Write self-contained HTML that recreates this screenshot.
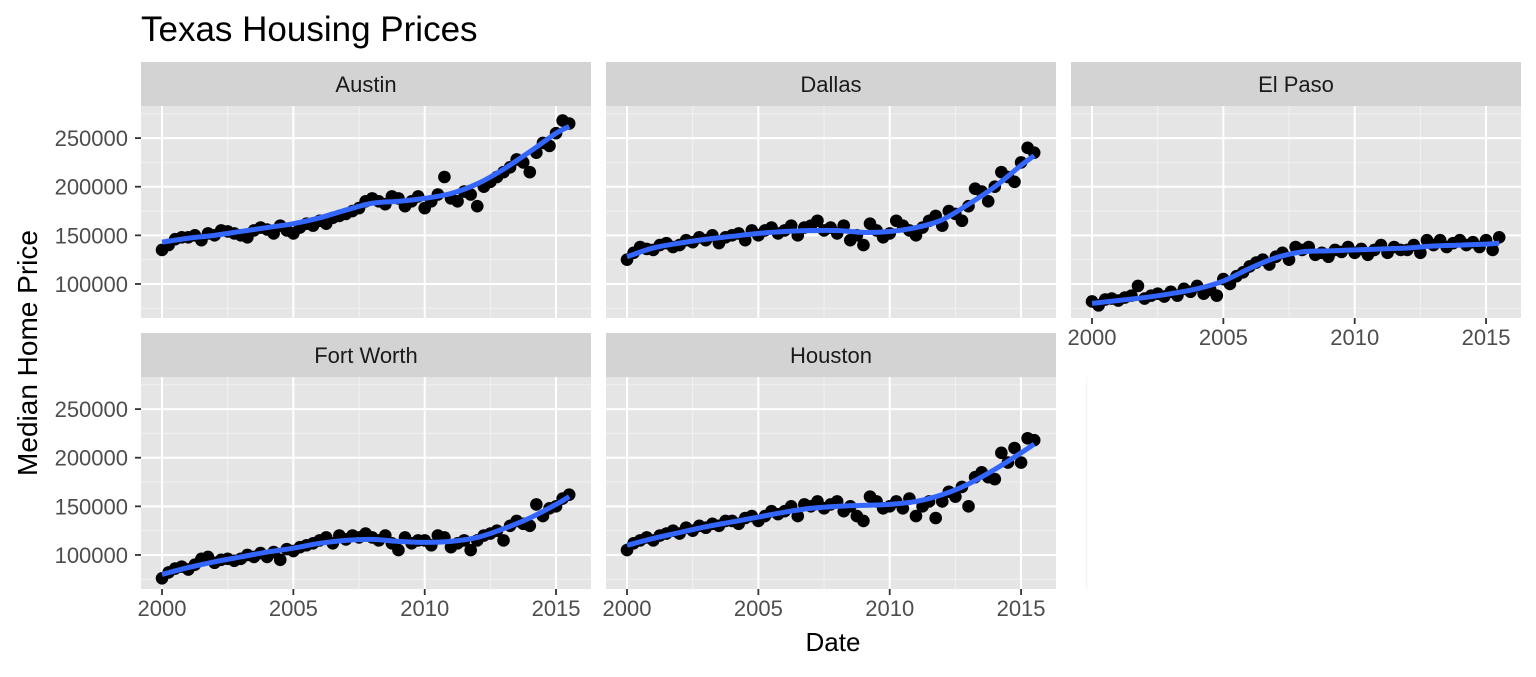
<!DOCTYPE html>
<html><head><meta charset="utf-8"><style>
body{margin:0;background:#fff;}
svg text{font-family:"Liberation Sans",Arial,sans-serif;}
</style></head><body>
<svg id="c" width="1536" height="672" xmlns="http://www.w3.org/2000/svg"></svg>
<script>
const cities = ["Austin","Dallas","El Paso","Fort Worth","Houston"];
const yearStart = 2000;
const austinPts = [135,140,146,148,148,150,145,152,150,155,154,152,150,148,155,158,156,152,160,155,152,158,162,160,165,162,168,170,172,175,178,185,188,185,182,190,188,180,185,190,178,185,192,210,188,185,195,192,180,200,205,210,215,220,228,225,215,235,245,242,255,268,265];
const dallasPts = [125,132,138,136,135,140,142,138,140,145,143,148,145,150,142,148,150,152,145,155,150,155,158,152,155,160,150,158,160,165,155,158,152,160,145,150,140,162,155,148,152,165,160,155,150,158,165,170,160,175,172,165,180,198,195,185,200,215,210,205,225,240,235];
const elpasoPts = [82,78,84,85,83,86,88,98,85,88,90,87,92,88,95,92,98,90,94,88,105,100,108,112,118,122,125,120,128,132,125,138,135,138,130,132,128,135,133,138,132,136,130,135,140,132,138,135,135,140,132,145,140,145,138,142,145,140,143,138,145,135,148];
const fortworthPts = [76,82,86,88,85,90,96,98,92,95,96,94,96,100,98,102,98,103,95,106,104,108,110,112,115,118,112,120,116,120,118,122,118,115,120,112,105,118,112,115,115,110,120,118,108,112,115,105,115,120,122,125,115,130,135,132,130,152,140,148,150,158,162];
const houstonPts = [105,112,115,118,115,120,122,125,122,128,125,130,128,132,130,135,135,132,138,140,135,140,145,142,145,150,140,152,150,155,148,152,155,145,150,140,135,160,155,148,150,155,148,158,140,150,155,138,155,165,160,170,150,180,185,180,178,205,195,210,195,220,218];
const smoothYears = [2000,2001,2002,2003,2004,2005,2006,2007,2008,2009,2010,2011,2012,2013,2014,2015,2015.5];
const austinSm = [143,147,150,154,158,162,168,176,183,185,188,193,203,218,236,255,262];
const dallasSm = [128,137,142,146,149,152,154,155,155,153,154,158,166,182,200,222,232];
const elpasoSm = [80,83,86,90,95,103,116,127,133,134,135,136,137,139,140,141,142];
const fortworthSm = [80,87,93,98,103,107,112,115,116,114,113,114,118,127,138,152,160];
const houstonSm = [110,117,123,129,134,139,144,148,150,151,152,155,162,173,188,205,214];
const yTicks = [100000,150000,200000,250000];
const xTicks = [2000,2005,2010,2015];

const pts=[austinPts,dallasPts,elpasoPts,fortworthPts,houstonPts];
const sms=[austinSm,dallasSm,elpasoSm,fortworthSm,houstonSm];
const svg=document.getElementById('c');
const NS='http://www.w3.org/2000/svg';
function mk(t,a,p){const e=document.createElementNS(NS,t);for(const k in a)e.setAttribute(k,a[k]);(p||svg).appendChild(e);return e;}
const PW=450, PH=212;
const layout=[[141,106],[606,106],[1071,106],[141,377],[606,377]];
const xmin=1999.2,xmax=2016.33,ymin=65000,ymax=283000;
function title(x,y,txt,size,anchor,name,extra){const t=mk('text',Object.assign({x:x,y:y,'font-size':size,fill:'#000','text-anchor':anchor},extra||{}));t.textContent=txt;return t;}
title(141,41,'Texas Housing Prices',35,'start','chart-title');
title(833,651,'Date',26,'middle','x-axis-title');
title(37,353,'Median Home Price',28,'middle','y-axis-title',{transform:'rotate(-90 37 353)'});
cities.forEach((c,i)=>{
  const [L,T]=layout[i];
  const sx=v=>L+(v-xmin)/(xmax-xmin)*PW;
  const sy=v=>T+PH-(v-ymin)/(ymax-ymin)*PH;
  const g=mk('g',{});
  
  
  const strip=mk('rect',{x:L,y:T-44,width:PW,height:44,fill:'#d3d3d3'},g);
  
  
  const st=mk('text',{x:L+PW/2,y:T-14,'font-size':22,fill:'#1a1a1a','text-anchor':'middle'},g);st.textContent=c;
  
  
  mk('rect',{x:L,y:T,width:PW,height:PH,fill:'#e5e5e5'},g);
  const cp=mk('clipPath',{id:'cp'+i},g);mk('rect',{x:L,y:T,width:PW,height:PH},cp);
  for(let k=0;k<yTicks.length+1;k++){const v=yTicks[0]-25000+k*50000;mk('line',{x1:L,x2:L+PW,y1:sy(v),y2:sy(v),stroke:'#f2f2f2','stroke-width':1},g);}
  for(let k=0;k<xTicks.length;k++){const v=xTicks[k]+2.5;mk('line',{y1:T,y2:T+PH,x1:sx(v),x2:sx(v),stroke:'#f2f2f2','stroke-width':1},g);}
  yTicks.forEach(v=>{mk('line',{x1:L,x2:L+PW,y1:sy(v),y2:sy(v),stroke:'#fff','stroke-width':2},g);});
  xTicks.forEach(v=>{mk('line',{y1:T,y2:T+PH,x1:sx(v),x2:sx(v),stroke:'#fff','stroke-width':2},g);});
  const dg=mk('g',{'clip-path':'url(#cp'+i+')'},g);
  pts[i].forEach((v,j)=>{const d=mk('circle',{cx:sx(yearStart+j*0.25),cy:sy(v*1000),r:6.3,fill:'#000'},dg);
    
    });
  const P=smoothYears.map((yy,j)=>[sx(yy),sy(sms[i][j]*1000)]);
  let d='M'+P[0][0]+','+P[0][1];
  for(let j=0;j<P.length-1;j++){const p0=P[Math.max(j-1,0)],p1=P[j],p2=P[j+1],p3=P[Math.min(j+2,P.length-1)];
    d+=' C'+(p1[0]+(p2[0]-p0[0])/6)+','+(p1[1]+(p2[1]-p0[1])/6)+' '+(p2[0]-(p3[0]-p1[0])/6)+','+(p2[1]-(p3[1]-p1[1])/6)+' '+p2[0]+','+p2[1];}
  const ln=mk('path',{d:d,fill:'none',stroke:'#3366FF','stroke-width':5},dg);
  
  
  if(i===0||i===3){yTicks.forEach(v=>{mk('line',{x1:L-6,x2:L,y1:sy(v),y2:sy(v),stroke:'#333','stroke-width':1.8},g);
    const t=mk('text',{x:L-13,y:sy(v)+8,'font-size':22,fill:'#4d4d4d','text-anchor':'end'},g);t.textContent=v;
    
    });}
  if(i>=2){xTicks.forEach(v=>{mk('line',{x1:sx(v),x2:sx(v),y1:T+PH,y2:T+PH+6,stroke:'#333','stroke-width':1.8},g);
    const t=mk('text',{x:sx(v),y:T+PH+27,'font-size':22,fill:'#4d4d4d','text-anchor':'middle'},g);t.textContent=v;
    
    });}
});
</script>
</body></html>
